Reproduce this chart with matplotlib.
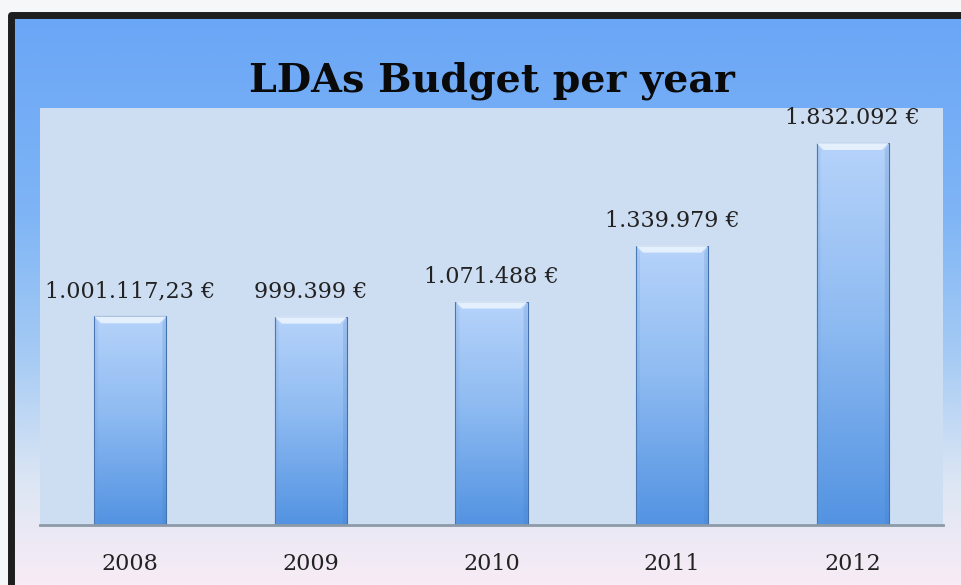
import numpy as np
import matplotlib
matplotlib.use('Agg')
import matplotlib.pyplot as plt
from matplotlib.patches import Rectangle, Polygon
from matplotlib.colors import LinearSegmentedColormap

years = ['2008', '2009', '2010', '2011', '2012']
budget = [1001117.23, 999399, 1071488, 1339979, 1832092]
value_labels = ['1.001.117,23 €', '999.399 €', '1.071.488 €', '1.339.979 €', '1.832.092 €']
title = 'LDAs Budget per year'

W, H = 961, 585
SERIF = ['DejaVu Serif']
fig = plt.figure(figsize=(W / 100, H / 100), dpi=100)

# ---- background ----
bg = fig.add_axes([0, 0, 1, 1])
bg.set_xlim(0, W)
bg.set_ylim(H, 0)
bg.axis('off')
bg.add_patch(Rectangle((0, 0), W, H, color='#f6f7f9', zorder=0))
grad = np.linspace(0, 1, 256)[:, None]
cmap_bg = LinearSegmentedColormap.from_list(
    'bg', [(0, '#6aa6f6'), (0.35, '#7fb5f6'), (0.6, '#a6cbf4'), (0.82, '#dce6f4'), (1, '#f8ecf6')])
bg.imshow(grad, extent=(11, W, H, 15), cmap=cmap_bg, aspect='auto', zorder=1)
bg.plot([11, 11, W], [H, 15, 15], color='#1e1e1e', lw=5, solid_joinstyle='round', zorder=2)

# ---- main axes ----
ax_l, ax_r, ax_t, ax_b = 40, 943, 108, 525
ax = fig.add_axes([ax_l / W, (H - ax_b) / H, (ax_r - ax_l) / W, (ax_b - ax_t) / H])
ax.set_facecolor('#cedef2')
ymax = 2000000
ax.set_xlim(-0.5, len(years) - 0.5)
ax.set_ylim(0, ymax)
for s in ['top', 'right', 'left']:
    ax.spines[s].set_visible(False)
ax.spines['bottom'].set_color('#8c9aa8')
ax.spines['bottom'].set_linewidth(2)
ax.spines['bottom'].set_zorder(5)
ax.set_yticks([])
x = np.arange(len(years))
ax.set_xticks(x)
ax.set_xticklabels(years, fontsize=16, family=SERIF, color='#222222')
ax.tick_params(axis='x', length=0, pad=20)

bw = 0.4
bars = ax.bar(x, budget, width=bw, color='none', edgecolor='#4272ad', linewidth=0.8, zorder=3)
cmap_bar = LinearSegmentedColormap.from_list(
    'bar', [(0, '#b6d3fa'), (0.45, '#90bcf2'), (1, '#5393e2')])
ax_px_h = ax_b - ax_t
ax_px_w = ax_r - ax_l
dy = ymax / ax_px_h          # data units per pixel (y)
dx = len(years) / ax_px_w    # data units per pixel (x)
for b in bars:
    x0, w, h = b.get_x(), b.get_width(), b.get_height()
    im = ax.imshow(grad, extent=(x0, x0 + w, 0, h), cmap=cmap_bar, aspect='auto', zorder=2)
    im.set_clip_path(b)
    bev = 7
    ax.add_patch(Polygon([(x0, h), (x0 + w, h), (x0 + w - bev * dx, h - bev * dy), (x0 + bev * dx, h - bev * dy)],
                         closed=True, facecolor='#eef6ff', edgecolor='none', alpha=0.85, zorder=4))
    ax.add_patch(Polygon([(x0, h), (x0 + 4 * dx, h - bev * dy), (x0 + 4 * dx, 0), (x0, 0)],
                         closed=True, facecolor='#6f9fdc', edgecolor='none', alpha=0.2, zorder=4))
    ax.add_patch(Polygon([(x0 + w, h), (x0 + w - 4 * dx, h - bev * dy), (x0 + w - 4 * dx, 0), (x0 + w, 0)],
                         closed=True, facecolor='#3f78c0', edgecolor='none', alpha=0.2, zorder=4))

for xi, v, lab in zip(x, budget, value_labels):
    ax.annotate(lab, (xi, v), xytext=(0, 14), textcoords='offset pixels', ha='center', va='bottom',
                fontsize=16, family=SERIF, color='#222222', zorder=6)
ax.set_xlim(-0.5, len(years) - 0.5)
ax.set_ylim(0, ymax)

fig.text((ax_l + ax_r) / 2 / W, 1 - 92 / H, title, ha='center', va='baseline',
         fontsize=28.5, fontweight='bold', family=SERIF, color='#0a0a0a')

fig.savefig('out.png', dpi=100)
